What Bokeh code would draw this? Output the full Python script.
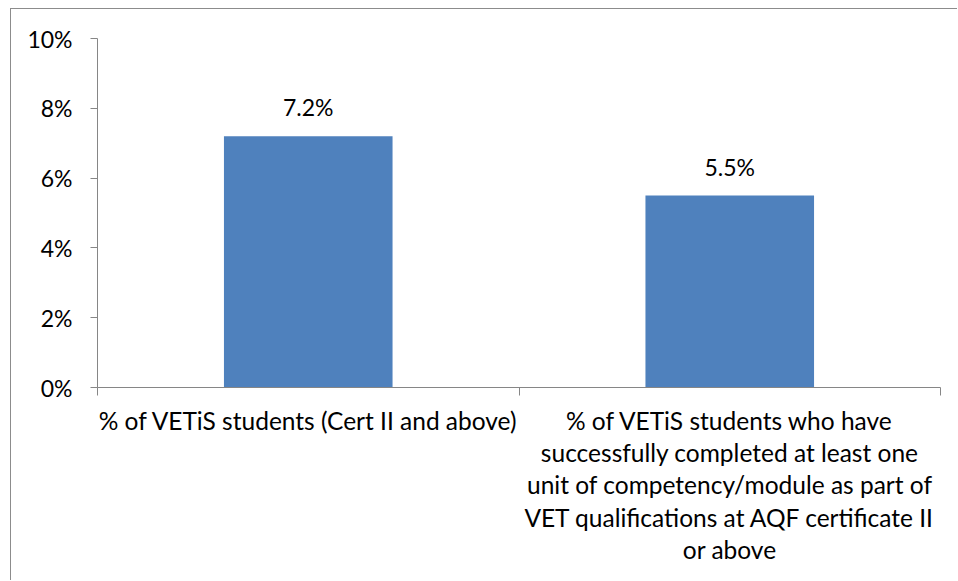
from bokeh.plotting import figure
from bokeh.models import ColumnDataSource, FixedTicker, NumeralTickFormatter, Range1d, LabelSet
from bokeh.core.properties import value
from bokeh.embed import file_html
from bokeh.resources import INLINE

categories = [
    "% of VETiS students (Cert II and above)",
    "% of VETiS students who have\nsuccessfully completed at least one\nunit of competency/module as part of\nVET qualifications at AQF certificate II\nor above",
]
values = [0.072, 0.055]
y_ticks = [0.0, 0.02, 0.04, 0.06, 0.08, 0.10]

FONT = "Lato"

positions = [i + 0.5 for i in range(len(categories))]
labels = [f"{v * 100:.1f}%" for v in values]
src = ColumnDataSource(dict(x=positions, top=values, label=labels))

# canvas placed inside a border; canvas reaches the window's right and bottom edges
p = figure(width=947, height=572, output_backend="svg", toolbar_location=None,
           x_range=Range1d(0, len(categories)), y_range=Range1d(0, 0.10),
           min_border_left=86, min_border_right=18, min_border_top=29, min_border_bottom=194)
p.styles = {"margin-left": "9.5px", "margin-top": "7.5px",
            "border-left": "1.5px solid #8c8c8c", "border-top": "1.5px solid #8c8c8c"}
p.outline_line_color = None
p.grid.grid_line_color = None
p.background_fill_color = "white"
p.border_fill_color = "white"

p.vbar(x="x", top="top", width=0.4, bottom=0, source=src, fill_color="#4F81BD", line_color=None)

lab = LabelSet(x="x", y="top", text="label", source=src, text_align="center",
               text_baseline="alphabetic", y_offset=20, text_font=value(FONT), text_font_size=value("23px"),
               text_color="black")
p.add_layout(lab)

# y axis
p.yaxis.ticker = FixedTicker(ticks=y_ticks, minor_ticks=[])
p.yaxis.formatter = NumeralTickFormatter(format="0%")
p.yaxis.axis_line_color = "#868686"
p.yaxis.major_tick_line_color = "#868686"
p.yaxis.major_tick_out = 7
p.yaxis.major_tick_in = 0
p.yaxis.minor_tick_line_color = None
p.yaxis.major_label_standoff = 18
p.yaxis.major_label_text_font = FONT
p.yaxis.major_label_text_font_size = "23px"
p.yaxis.major_label_text_color = "black"

# x axis
p.xaxis.ticker = FixedTicker(ticks=positions, minor_ticks=list(range(len(categories) + 1)))
p.xaxis.major_label_overrides = {pos: c for pos, c in zip(positions, categories)}
p.xaxis.axis_line_color = "#868686"
p.xaxis.major_tick_line_color = None
p.xaxis.major_tick_out = 0
p.xaxis.major_tick_in = 0
p.xaxis.minor_tick_line_color = "#868686"
p.xaxis.minor_tick_out = 8
p.xaxis.minor_tick_in = 0
p.xaxis.major_label_standoff = 10
p.xaxis.major_label_text_font = FONT
p.xaxis.major_label_text_font_size = "24.5px"
p.xaxis.major_label_text_color = "black"
p.xaxis.major_label_text_line_height = 1.12

open("out.html", "w").write(file_html(p, INLINE))
